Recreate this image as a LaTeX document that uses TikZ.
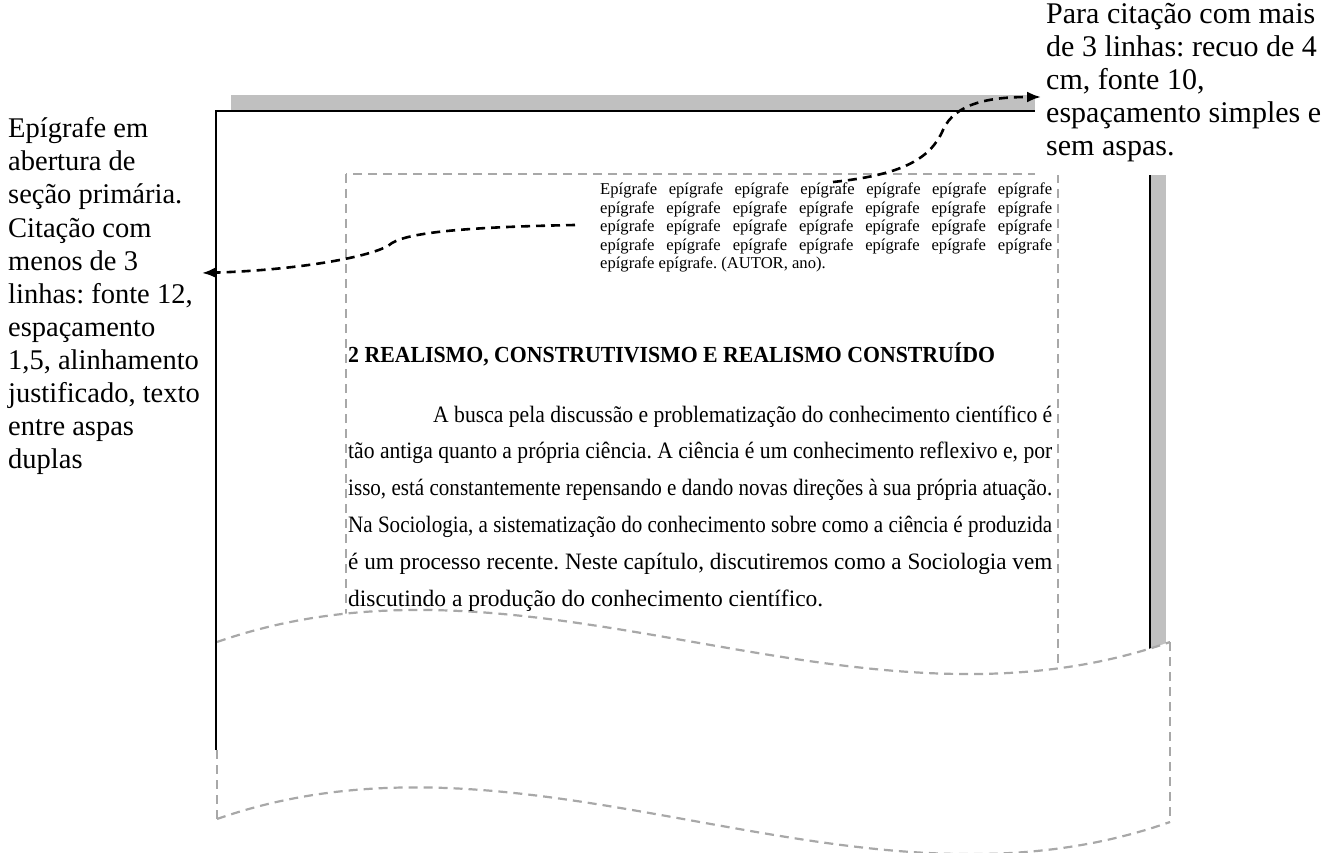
\documentclass[tikz,border=0pt]{standalone}
\usepackage{graphicx}
\usepackage{fontspec}
\setmainfont{Liberation Serif}
\usetikzlibrary{arrows.meta}

\definecolor{shadowgray}{RGB}{192,192,192}
\definecolor{guidegray}{RGB}{168,168,168}

% a line set to a given width: stretched at the spaces, or squeezed if too long
\newlength\fitw
\newcommand\fitline[2]{\settowidth\fitw{#2}\ifdim\fitw>#1\relax\resizebox{#1}{\height}{#2}\else\makebox[#1][s]{#2}\fi}

\begin{document}
\frenchspacing
\begin{tikzpicture}[x=1pt,y=-1pt,
  pageedge/.style={draw=black, line width=1.6pt},
  guide/.style={draw=guidegray, line width=2.2pt, dash pattern=on 9pt off 6pt},
  callout/.style={draw=black, line width=2.6pt, dash pattern=on 9pt off 6pt,
                  -{Latex[length=14pt,width=11pt]}},
  note/.style={font=\fontsize{28.5}{33}\selectfont, inner sep=0pt, anchor=base west},
  rnote/.style={note, font=\fontsize{30}{33}\selectfont},
  epi/.style={font=\fontsize{16.6}{18}\selectfont, inner sep=0pt, anchor=base west},
  body/.style={font=\fontsize{23.5}{36}\selectfont, inner sep=0pt, anchor=base west},
]
\useasboundingbox (0,0) rectangle (1336,853);

% page with its shadow
\fill[shadowgray] (231,95) rectangle (1166,700);
\filldraw[fill=white, pageedge] (216,111) rectangle (1150,700);
% text area
\draw[guide] (346,174) rectangle (1058,700);

% torn-off lower part of the page
\fill[white] (205,642) -- (217,642) .. controls (535,531) and (852,753) .. (1170,642)
  -- (1185,642) -- (1185,765) -- (205,765) -- cycle;
\draw[guide] (217,642) .. controls (535,531) and (852,753) .. (1170,642);
\draw[guide] (217,819) .. controls (535,708) and (852,934) .. (1170,822);
\draw[guide] (1170,642) -- (1170,822);
\draw[guide] (217,750) -- (217,819);
\draw[pageedge] (216,630) -- (216,750);

% corner covered by the right-hand note
\fill[white] (1035,0) rectangle (1336,175);

% epigraph
\node[epi] (e1) at (600,195)   {\fitline{452pt}{Epígrafe epígrafe epígrafe epígrafe epígrafe epígrafe epígrafe}};
\node[epi] (e2) at (600,213.5) {\fitline{452pt}{epígrafe epígrafe epígrafe epígrafe epígrafe epígrafe epígrafe}};
\node[epi] (e3) at (600,232)   {\fitline{452pt}{epígrafe epígrafe epígrafe epígrafe epígrafe epígrafe epígrafe}};
\node[epi] (e4) at (600,250.5) {\fitline{452pt}{epígrafe epígrafe epígrafe epígrafe epígrafe epígrafe epígrafe}};
\node[epi] (e5) at (600,269)   {epígrafe epígrafe. (AUTOR, ano).};

% section heading and first paragraph
\node[body, font=\fontsize{23}{36}\selectfont\bfseries] (h) at (348,362)
  {\fitline{647pt}{2 REALISMO, CONSTRUTIVISMO E REALISMO CONSTRUÍDO}};
\node[body] (b1) at (433,422)   {\fitline{619pt}{A busca pela discussão e problematização do conhecimento científico é}};
\node[body] (b2) at (348,458.8) {\fitline{704pt}{tão antiga quanto a própria ciência. A ciência é um conhecimento reflexivo e, por}};
\node[body] (b3) at (348,495.6) {\fitline{704pt}{isso, está constantemente repensando e dando novas direções à sua própria atuação.}};
\node[body] (b4) at (348,532.4) {\fitline{704pt}{Na Sociologia, a sistematização do conhecimento sobre como a ciência é produzida}};
\node[body] (b5) at (348,569.2) {\fitline{704pt}{é um processo recente. Neste capítulo, discutiremos como a Sociologia vem}};
\node[body] (b6) at (348,606)   {discutindo a produção do conhecimento científico.};

% left note
\foreach \t [count=\i] in {Epígrafe em, abertura de, seção primária., Citação com,
  menos de 3, {linhas: fonte 12,}, espaçamento, {1,5, alinhamento},
  {justificado, texto}, entre aspas, duplas}
  \node[note] (L\i) at (8,{138+33*(\i-1)}) {\t};

% right note
\foreach \t [count=\i] in {Para citação com mais, de 3 linhas: recuo de 4,
  {cm, fonte 10,}, espaçamento simples e, sem aspas.}
  \node[rnote] (R\i) at (1046,{24+33*(\i-1)}) {\t};

% callouts
\coordinate (qL) at (575,225);
\coordinate (tL) at (202,273);
\coordinate (qR) at (833,182);
\coordinate (tR) at (1041,97);
\draw[callout] (qL) .. controls (470,227) and (410,232) .. (392,243)
  .. controls (378,256) and (300,270) .. (tL);
\draw[callout] (qR) .. controls (900,175) and (930,160) .. (943,130)
  .. controls (955,103) and (990,97) .. (tR);
\end{tikzpicture}
\end{document}
